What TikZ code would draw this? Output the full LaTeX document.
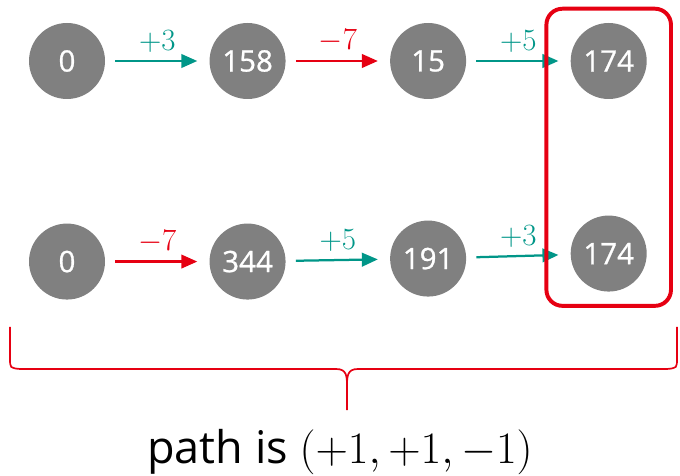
\documentclass[tikz,border=0pt]{standalone}
\usepackage{fix-cm}
\usepackage{fontspec}
\setmainfont{Open Sans}
\newfontfamily\numfont[FakeBold=0.8]{Open Sans}
\usepackage{tikz}
\usetikzlibrary{positioning, fit, arrows.meta}
\definecolor{stepteal}{RGB}{0,150,136}
\definecolor{stepred}{RGB}{230,0,18}
\definecolor{nodegray}{RGB}{128,128,128}

\begin{document}
\begin{tikzpicture}[
    node distance=3.1cm and 2.6cm,
    state/.style={circle, fill=nodegray, text=white, minimum size=1.9cm, inner sep=0pt, font=\numfont\fontsize{21}{25}\selectfont},
    up/.style={-{Triangle[length=0.4cm, width=0.34cm]}, line width=1.6pt, color=stepteal, shorten <=0.25cm, shorten >=0.3cm},
    down/.style={-{Triangle[length=0.4cm, width=0.34cm]}, line width=1.6pt, color=stepred, shorten <=0.25cm, shorten >=0.3cm},
    lbl/.style={font=\fontsize{22}{26}\selectfont, above=2pt},
    selbox/.style={draw=stepred, line width=2.8pt, rounded corners=0.4cm, inner xsep=0.6cm, inner ysep=0.35cm}
]
    \useasboundingbox (0,0) rectangle (17,-11.9);

    % first path
    \node [state] (t1) at (1.675,-1.525) {0};
    \node [state, right=of t1] (t2) {158};
    \node [state, right=of t2] (t3) {15};
    \node [state, right=of t3] (t4) {174};

    % second path
    \node [state, below=of t1] (b1) {0};
    \node [state, right=of b1] (b2) {344};
    \node [state, right=of b2, yshift=0.075cm] (b3) {191};
    \node [state, right=of b3, yshift=0.125cm] (b4) {174};

    \draw [up] (t1) -- node [lbl] {$+3$} (t2);
    \draw [down] (t2) -- node [lbl] {$-7$} (t3);
    \draw [up] (t3) -- node [lbl] {$+5$} (t4);

    \draw [down] (b1) -- node [lbl] {$-7$} (b2);
    \draw [up] (b2) -- node [lbl] {$+5$} (b3);
    \draw [up] (b3) -- node [lbl] {$+3$} (b4);

    \node [selbox, fit=(t4)(b4)] (same) {};

    % brace
    \coordinate (bl) at (0.25,-8.175);
    \coordinate (br) at (16.925,-8.175);
    \coordinate (tip) at (8.675,-10.25);
    \draw [stepred, line width=1.2pt]
        (bl) -- (0.25,-8.95) .. controls (0.25,-9.2) .. (0.5,-9.225) -- (8.4,-9.225)
        .. controls (8.675,-9.225) and (8.675,-9.4) .. (8.675,-9.7) -- (tip);
    \draw [stepred, line width=1.2pt]
        (br) -- (16.925,-8.95) .. controls (16.925,-9.2) .. (16.675,-9.225) -- (8.95,-9.225)
        .. controls (8.675,-9.225) and (8.675,-9.4) .. (8.675,-9.7);

    \node [font=\fontsize{32}{38}\selectfont] (result) at (8.5,-11.3) {path is $(+1, +1, -1)$};
\end{tikzpicture}
\end{document}
